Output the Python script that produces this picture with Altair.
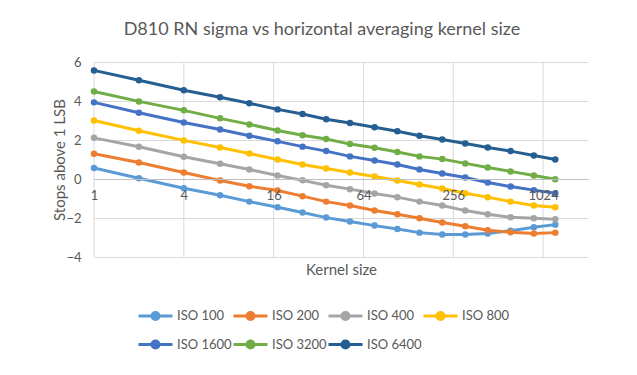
import altair as alt
import pandas as pd

kernel = [1, 2, 4, 7, 11, 17, 25, 36, 52, 76, 108, 152, 216, 308, 436, 620, 888, 1236]
series = ["ISO 100", "ISO 200", "ISO 400", "ISO 800", "ISO 1600", "ISO 3200", "ISO 6400"]
colors = ["#5B9BD5", "#ED7D31", "#A5A5A5", "#FFC000", "#4472C4", "#70AD47", "#255E91"]

iso100 = [0.56, 0.04, -0.47, -0.83, -1.16, -1.45, -1.72, -1.98, -2.18, -2.39, -2.56, -2.75, -2.85, -2.85, -2.80, -2.65, -2.47, -2.34]
iso200 = [1.29, 0.85, 0.33, -0.08, -0.37, -0.59, -0.88, -1.16, -1.36, -1.62, -1.81, -2.01, -2.23, -2.42, -2.63, -2.73, -2.80, -2.75]
iso400 = [2.11, 1.65, 1.14, 0.78, 0.49, 0.18, -0.07, -0.32, -0.52, -0.74, -0.93, -1.16, -1.36, -1.62, -1.81, -1.96, -2.01, -2.06]
iso800 = [3.00, 2.47, 1.98, 1.62, 1.31, 1.00, 0.74, 0.54, 0.33, 0.13, -0.08, -0.28, -0.49, -0.73, -0.93, -1.16, -1.36, -1.45]
iso1600 = [3.93, 3.40, 2.90, 2.54, 2.22, 1.93, 1.66, 1.43, 1.16, 0.95, 0.74, 0.49, 0.28, 0.08, -0.18, -0.39, -0.57, -0.73]
iso3200 = [4.49, 3.98, 3.52, 3.11, 2.80, 2.49, 2.24, 2.05, 1.79, 1.60, 1.38, 1.16, 1.02, 0.80, 0.59, 0.39, 0.18, -0.01]
iso6400 = [5.57, 5.06, 4.55, 4.19, 3.88, 3.57, 3.33, 3.06, 2.87, 2.65, 2.45, 2.22, 2.03, 1.82, 1.62, 1.43, 1.21, 1.00]

x_ticks = [1, 4, 16, 64, 256, 1024]
y_ticks = [-4, -2, 0, 2, 4, 6]

values = [iso100, iso200, iso400, iso800, iso1600, iso3200, iso6400]
rows = []
for name, vals in zip(series, values):
    for k, v in zip(kernel, vals):
        rows.append({"kernel": k, "stops": v, "series": name})
df = pd.DataFrame(rows)
grid_df = pd.DataFrame({"kernel": x_ticks})

FONT = "Lato"
GREY = "#595959"

xscale = alt.Scale(type="log", base=2, domain=[1, 2048], nice=False)
yscale = alt.Scale(domain=[-4, 6], nice=False)

xaxis = alt.Axis(
    values=x_ticks,
    offset=-78,
    grid=False,
    ticks=False,
    domain=True,
    domainColor="#bfbfbf",
    domainWidth=1,
    labelColor=GREY,
    labelFontSize=13,
    labelFont=FONT,
    labelPadding=10,
    labelFlush=False,
    title="Kernel size",
    titleFont=FONT,
    titleFontSize=15,
    titleFontWeight="normal",
    titleColor=GREY,
    titlePadding=60,
    format="d",
    zindex=1,
)

vgrid = alt.Chart(grid_df).mark_rule(color="#d9d9d9", strokeWidth=1).encode(
    x=alt.X("kernel:Q", scale=xscale, axis=xaxis)
)

sym = "M-1,0L1,0M0.21,0A0.21,0.21 0 1,1 -0.21,0A0.21,0.21 0 1,1 0.21,0Z"

lines = alt.Chart(df).mark_line(
    strokeWidth=3,
    point=alt.OverlayMarkDef(filled=True, size=42, opacity=1),
).encode(
    x=alt.X("kernel:Q", scale=xscale, axis=xaxis),
    y=alt.Y(
        "stops:Q",
        scale=yscale,
        axis=alt.Axis(
            values=y_ticks,
            grid=True,
            gridColor="#d9d9d9",
            ticks=False,
            domain=False,
            labelColor=GREY,
            labelFontSize=13,
            labelFont=FONT,
            labelPadding=13,
            title="Stops above 1 LSB",
            titleFont=FONT,
            titleFontSize=15,
            titleFontWeight="normal",
            titleColor=GREY,
            titlePadding=-2,
        ),
    ),
    color=alt.Color(
        "series:N",
        scale=alt.Scale(domain=series, range=colors),
        legend=alt.Legend(
            title=None,
            orient="none",
            legendX=43,
            legendY=235,
            direction="horizontal",
            columns=4,
            gridAlign="all",
            symbolType=sym,
            symbolSize=1156,
            symbolStrokeWidth=3,
            labelFont=FONT,
            labelFontSize=13,
            labelColor=GREY,
            labelOffset=3,
            columnPadding=-16,
            rowPadding=-10,
        ),
    ),
    order=alt.Order("kernel:Q"),
)

chart = alt.layer(vgrid, lines).properties(
    width=494,
    height=195,
    autosize=alt.AutoSizeParams(type="none"),
    padding={"left": 94, "top": 62, "right": 49, "bottom": 118},
    title=alt.TitleParams(
        "D810 RN sigma vs horizontal averaging kernel size",
        font=FONT,
        fontSize=18,
        fontWeight="normal",
        color=GREY,
        anchor="middle",
        dx=-19,
        offset=17,
    ),
    background="white",
).configure_view(stroke=None)

chart.save("out.html", embed_options={"renderer": "svg", "actions": False})
